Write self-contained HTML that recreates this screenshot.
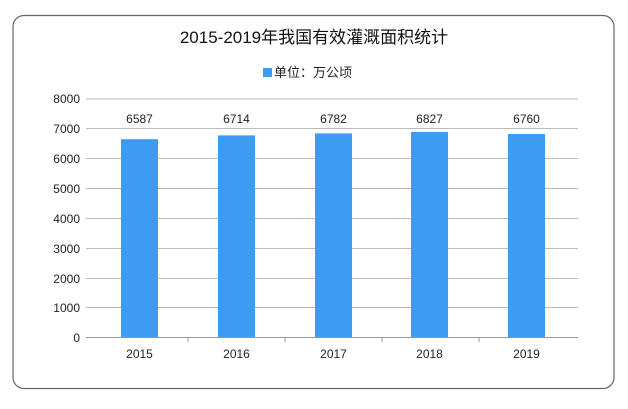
<!DOCTYPE html>
<html><head><meta charset="utf-8"><style>
body{margin:0;width:628px;height:404px;background:#fff;overflow:hidden}
</style></head><body>
<svg width="628" height="404" xmlns="http://www.w3.org/2000/svg" font-family="Liberation Sans, Noto Sans CJK SC, sans-serif">
<rect x="13" y="15.5" width="601" height="373" rx="11" fill="#fff" stroke="#666" stroke-width="1.2"/>
<text x="314" y="43" text-anchor="middle" font-size="17" fill="#111">2015-2019年我国有效灌溉面积统计</text>
<rect x="263" y="68" width="9" height="9" fill="#3d9cf0"/>
<text x="274" y="77" font-size="13" fill="#222">单位：万公顷</text>
<g stroke="#bbb" stroke-width="1">
<line x1="86" y1="99" x2="578" y2="99"/>
<line x1="86" y1="128.5" x2="578" y2="128.5"/>
<line x1="86" y1="158.5" x2="578" y2="158.5"/>
<line x1="86" y1="188.5" x2="578" y2="188.5"/>
<line x1="86" y1="218.5" x2="578" y2="218.5"/>
<line x1="86" y1="248.5" x2="578" y2="248.5"/>
<line x1="86" y1="278.5" x2="578" y2="278.5"/>
<line x1="86" y1="307.5" x2="578" y2="307.5"/>
</g>
<g fill="#3d9cf0">
<rect x="121" y="139.2" width="37" height="198.8"/>
<rect x="218" y="135.4" width="37" height="202.6"/>
<rect x="315" y="133.4" width="37" height="204.6"/>
<rect x="411" y="132" width="37" height="206"/>
<rect x="508" y="134" width="37" height="204"/>
</g>
<g stroke="#999" stroke-width="1">
<line x1="86" y1="337.5" x2="578" y2="337.5"/>
<line x1="188" y1="338" x2="188" y2="342"/>
<line x1="285" y1="338" x2="285" y2="342"/>
<line x1="382" y1="338" x2="382" y2="342"/>
<line x1="479" y1="338" x2="479" y2="342"/>
</g>
<g font-size="12" fill="#222" text-anchor="end">
<text x="80" y="103">8000</text><text x="80" y="133">7000</text><text x="80" y="163">6000</text>
<text x="80" y="193">5000</text><text x="80" y="223">4000</text><text x="80" y="253">3000</text>
<text x="80" y="283">2000</text><text x="80" y="312">1000</text><text x="80" y="342">0</text>
</g>
<g font-size="12" fill="#222" text-anchor="middle">
<text x="139.5" y="123">6587</text><text x="236.5" y="123">6714</text><text x="333.5" y="123">6782</text>
<text x="429.5" y="123">6827</text><text x="526.5" y="123">6760</text>
<text x="139.5" y="358">2015</text><text x="236.5" y="358">2016</text><text x="333.5" y="358">2017</text>
<text x="429.5" y="358">2018</text><text x="526.5" y="358">2019</text>
</g>
</svg>
</body></html>
